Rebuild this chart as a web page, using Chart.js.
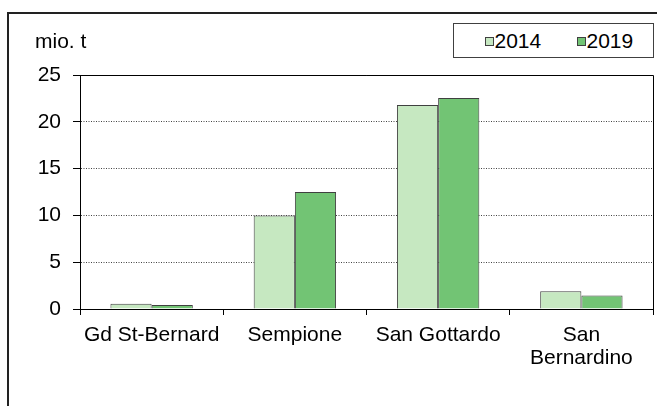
<!DOCTYPE html>
<html><head><meta charset="utf-8">
<script src="https://cdn.jsdelivr.net/npm/chart.js@4"></script>
<style>
html,body{margin:0;padding:0;background:#fff;overflow:hidden;}
#wrap{position:relative;width:657px;height:406px;font-family:"Liberation Sans",Arial,sans-serif;color:#000;overflow:hidden;}
#frame{position:absolute;left:7px;top:12px;width:700px;height:440px;border:2px solid #222;box-sizing:border-box;}
.txt{position:absolute;font-size:21px;line-height:21px;white-space:nowrap;}
#legend{position:absolute;left:453px;top:23px;width:201px;height:35px;border:1px solid #404040;box-sizing:border-box;background:#fff;}
.sw{position:absolute;width:9px;height:9px;border:1px solid #404040;box-sizing:border-box;}
canvas{position:absolute;left:0;top:0;}
</style></head>
<body><div id="wrap">
<div id="frame"></div>
<canvas id="c" width="657" height="406"></canvas>
<div class="txt" id="unit" style="left:35px;top:30px;">mio. t</div>
<div id="legend"></div>
</div>
<script>
const categories = ["Gd St-Bernard", "Sempione", "San Gottardo", ["San", "Bernardino"]];
const seriesNames = ["2014", "2019"];
const values2014 = [0.55, 10.0, 21.8, 1.9];
const values2019 = [0.42, 12.5, 22.55, 1.45];
const yTicks = [0, 5, 10, 15, 20, 25];
const colors = ["#c6e8c1", "#72c474"];

const wrap = document.getElementById('wrap');
[[seriesNames[0], colors[0], 485], [seriesNames[1], colors[1], 577]].forEach(([n, c, x]) => {
  const s = document.createElement('div'); s.className = 'sw';
  s.style.left = x + 'px'; s.style.top = '37px'; s.style.background = c;
  wrap.appendChild(s);
  const t = document.createElement('div'); t.className = 'txt';
  t.style.left = (x + 9.5) + 'px'; t.style.top = '29.5px'; t.textContent = n;
  wrap.appendChild(t);
});

const framePlugin = {
  id: 'framePlugin',
  afterDraw(chart) {
    const {ctx, chartArea: a} = chart;
    ctx.save(); ctx.strokeStyle = '#000'; ctx.lineWidth = 1;
    ctx.beginPath();
    ctx.moveTo(a.left, a.top + 0.5); ctx.lineTo(a.right + 0.5, a.top + 0.5); ctx.lineTo(a.right + 0.5, a.bottom);
    ctx.stroke(); ctx.restore();
  }
};

const font = {family: '"Liberation Sans", Arial, sans-serif', size: 21, lineHeight: 1.12};

new Chart(document.getElementById('c'), {
  type: 'bar',
  data: {
    labels: categories,
    datasets: [
      {label: seriesNames[0], data: values2014, backgroundColor: colors[0], borderColor: '#404040', borderWidth: 1},
      {label: seriesNames[1], data: values2019, backgroundColor: colors[1], borderColor: '#404040', borderWidth: 1}
    ]
  },
  options: {
    responsive: false, animation: false,
    layout: {padding: {left: 0, top: 75, right: 4, bottom: 0}},
    plugins: {legend: {display: false}, tooltip: {enabled: false}},
    datasets: {bar: {categoryPercentage: 0.575, barPercentage: 1}},
    scales: {
      x: {
        offset: true,
        grid: {display: true, drawOnChartArea: false, drawTicks: true, tickLength: 6, color: '#000', offset: true},
        border: {display: true, color: '#000', width: 1},
        ticks: {color: '#000', font: font, padding: 8, maxRotation: 0, autoSkip: false},
        afterFit(s) { s.height = 97; }
      },
      y: {
        min: 0, max: 25,
        afterBuildTicks(s) { s.ticks = yTicks.map(v => ({value: v})); },
        grid: {color: '#444', lineWidth: 1, drawTicks: true, tickLength: 7, tickColor: '#000', tickBorderDash: []},
        border: {display: true, color: '#000', width: 1, dash: [1, 1.5]},
        ticks: {color: '#000', font: font, padding: 12},
        afterFit(s) { s.width = 80; }
      }
    }
  },
  plugins: [framePlugin]
});
</script>
</body></html>
